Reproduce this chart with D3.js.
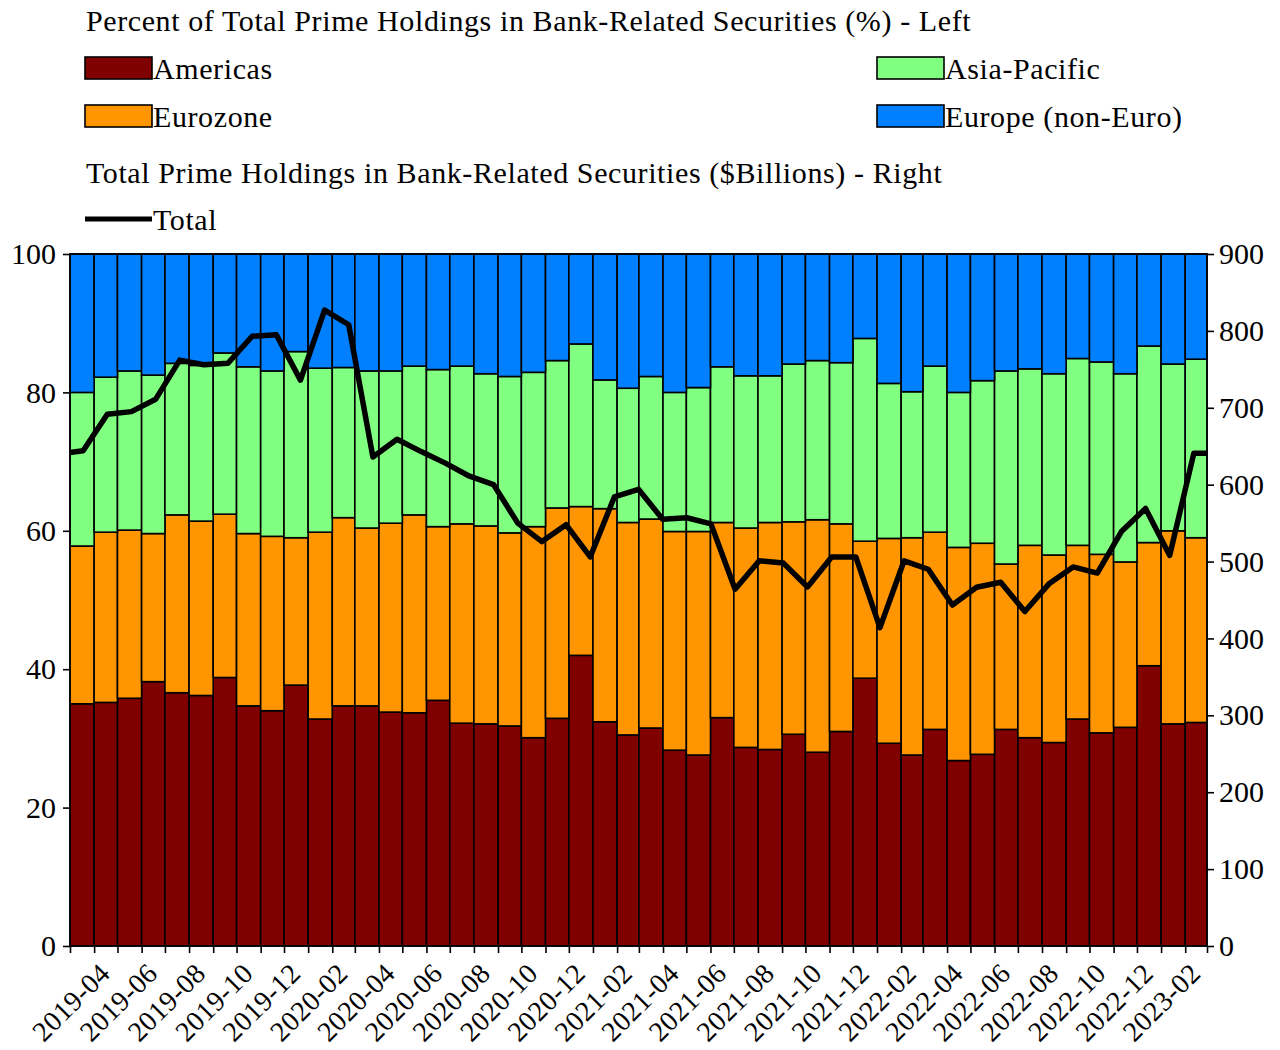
<!DOCTYPE html>
<html>
<head>
<meta charset="utf-8">
<script src="https://cdn.jsdelivr.net/npm/d3@7"></script>
<style>
  body { margin: 0; background: white; }
  svg text { font-family: 'Liberation Serif', 'Times New Roman', serif; fill: black; }
</style>
</head>
<body>
<div id="chart-container"></div>
<script>
// Monthly periods of the bars
const months = [
    '2019-03', '2019-04', '2019-05', '2019-06', '2019-07', '2019-08', '2019-09', '2019-10', '2019-11', '2019-12',
    '2020-01', '2020-02', '2020-03', '2020-04', '2020-05', '2020-06', '2020-07', '2020-08', '2020-09', '2020-10', '2020-11', '2020-12',
    '2021-01', '2021-02', '2021-03', '2021-04', '2021-05', '2021-06', '2021-07', '2021-08', '2021-09', '2021-10', '2021-11', '2021-12',
    '2022-01', '2022-02', '2022-03', '2022-04', '2022-05', '2022-06', '2022-07', '2022-08', '2022-09', '2022-10', '2022-11', '2022-12',
    '2023-01', '2023-02'
]

// Shares of total prime holdings (%)
const americas = [35.0, 35.2, 35.8, 38.2, 36.6, 36.2, 38.8, 34.7, 34.0, 37.7, 32.8, 34.7, 34.7, 33.8, 33.7, 35.5,
    32.2, 32.1, 31.8, 30.1, 32.9, 42.0, 32.4, 30.5, 31.5, 28.3, 27.6, 33.0, 28.7, 28.4, 30.6, 28.0,
    31.0, 38.7, 29.3, 27.6, 31.3, 26.8, 27.7, 31.3, 30.1, 29.4, 32.8, 30.8, 31.6, 40.5, 32.1, 32.3]
const eurozone = [22.8, 24.6, 24.3, 21.4, 25.7, 25.2, 23.6, 24.9, 25.2, 21.3, 27.0, 27.2, 25.7, 27.3, 28.6, 25.1,
    28.8, 28.6, 27.9, 30.5, 30.4, 21.5, 30.8, 30.7, 30.2, 31.6, 32.3, 28.2, 31.7, 32.8, 30.7, 33.6,
    30.0, 19.8, 29.6, 31.4, 28.5, 30.8, 30.5, 23.9, 27.8, 27.1, 25.1, 25.8, 23.9, 17.8, 27.9, 26.7]
const asiaPacific = [22.2, 22.4, 23.0, 22.9, 21.9, 22.5, 23.3, 24.1, 23.9, 26.9, 23.7, 21.7, 22.7, 22.0, 21.5, 22.7,
    22.8, 22.0, 22.6, 22.3, 21.3, 23.5, 18.6, 19.4, 20.6, 20.1, 20.8, 22.5, 22.0, 21.2, 22.8, 23.0,
    23.3, 29.3, 22.4, 21.1, 24.0, 22.4, 23.5, 27.9, 25.5, 26.2, 27.0, 27.8, 27.2, 28.4, 24.1, 25.8]
const europeNonEuro = [20.0, 17.8, 16.9, 17.5, 15.8, 16.1, 14.3, 16.3, 16.9, 14.1, 16.5, 16.4, 16.9, 16.9, 16.2, 16.7,
    16.2, 17.3, 17.7, 17.1, 15.4, 13.0, 18.2, 19.4, 17.7, 20.0, 19.3, 16.3, 17.6, 17.6, 15.9, 15.4,
    15.7, 12.2, 18.7, 19.9, 16.2, 20.0, 18.3, 16.9, 16.6, 17.3, 15.1, 15.6, 17.3, 13.3, 15.9, 15.2]

// Total holdings ($Billions), its own point axis running slightly past the plot edges
const totalPeriods = ['2019-02'].concat(months)
const totalHoldings = [640, 644, 691.5, 695, 711, 762, 756, 758, 793, 795, 736, 827, 808, 636, 659, 643, 628,
    611, 600, 550, 526, 548, 506, 584, 594, 555, 557, 549, 464, 501, 498, 467, 506,
    506, 414, 501, 490, 443.5, 466.5, 473, 435, 471, 493, 485, 539, 569, 508, 641, 641]

const seriesKeys = ['Americas', 'Eurozone', 'Asia-Pacific', 'Europe (non-Euro)']
const seriesColors = ['#800000', '#ff9500', '#80ff80', '#0080ff']
const leftTicks = [0, 20, 40, 60, 80, 100]
const rightTicks = [0, 100, 200, 300, 400, 500, 600, 700, 800, 900]

const width = 1280
const height = 1050
const plot = { left: 70, right: 1207, top: 254, bottom: 946 }
const fontSize = 30
const dateFontSize = 28
const letterSpacing = 0.6

const parseMonth = d3.timeParse('%Y-%m')
const table = months.map((m, i) => ({
    month: parseMonth(m),
    label: m,
    'Americas': americas[i],
    'Eurozone': eurozone[i],
    'Asia-Pacific': asiaPacific[i],
    'Europe (non-Euro)': europeNonEuro[i]
}))

const svg = d3.select('#chart-container')
    .append('svg')
    .attr('width', width)
    .attr('height', height)

// Scales
const xScale = d3.scaleTime()
    .domain([table[0].month, d3.timeMonth.offset(table[table.length - 1].month, 1)])
    .range([plot.left, plot.right])
const yLeft = d3.scaleLinear().domain([0, 100]).range([plot.bottom, plot.top])
const yRight = d3.scaleLinear().domain([0, 900]).range([plot.bottom, plot.top])
const lineX = d3.scalePoint().domain(totalPeriods).range([plot.left - 11, plot.right + 11])
const color = d3.scaleOrdinal().domain(seriesKeys).range(seriesColors)

// Stacked bars
const stacked = d3.stack().keys(seriesKeys)(table)
svg.append('g')
    .selectAll('g')
    .data(stacked)
    .enter()
    .append('g')
    .attr('fill', d => color(d.key))
    .selectAll('rect')
    .data(d => d)
    .enter()
    .append('rect')
    .attr('x', d => xScale(d.data.month))
    .attr('width', d => xScale(d3.timeMonth.offset(d.data.month, 1)) - xScale(d.data.month))
    .attr('y', d => yLeft(d[1]))
    .attr('height', d => yLeft(d[0]) - yLeft(d[1]))
    .attr('stroke', 'black')
    .attr('stroke-width', 1.6)

// Total line, clipped to the plot
svg.append('clipPath')
    .attr('id', 'plot-clip')
    .append('rect')
    .attr('x', plot.left)
    .attr('y', plot.top)
    .attr('width', plot.right - plot.left)
    .attr('height', plot.bottom - plot.top)

const line = d3.line()
    .x((d, i) => lineX(totalPeriods[i]))
    .y(d => yRight(d))
svg.append('path')
    .datum(totalHoldings)
    .attr('clip-path', 'url(#plot-clip)')
    .attr('d', line)
    .attr('fill', 'none')
    .attr('stroke', 'black')
    .attr('stroke-width', 5.5)
    .attr('stroke-linejoin', 'round')

// Frame
svg.append('rect')
    .attr('x', plot.left)
    .attr('y', plot.top)
    .attr('width', plot.right - plot.left)
    .attr('height', plot.bottom - plot.top)
    .attr('fill', 'none')
    .attr('stroke', 'black')
    .attr('stroke-width', 1.6)

// Axes
const monthStarts = table.map(d => d.month).concat([xScale.domain()[1]])
const xAxis = d3.axisBottom(xScale)
    .tickValues(monthStarts)
    .tickFormat('')
    .tickSize(7)
svg.append('g')
    .attr('transform', 'translate(0,' + plot.bottom + ')')
    .call(xAxis)
    .call(g => g.select('.domain').remove())

// Date labels every other month, rotated
svg.append('g')
    .selectAll('text')
    .data(table.filter((d, i) => i % 2 === 1))
    .enter()
    .append('text')
    .attr('text-anchor', 'end')
    .attr('font-size', dateFontSize)
    .attr('letter-spacing', 0.4)
    .attr('transform', d => {
        const cx = (xScale(d.month) + xScale(d3.timeMonth.offset(d.month, 1))) / 2 + 6
        return 'translate(' + cx + ',' + (plot.bottom + 29) + ') rotate(-45)'
    })
    .text(d => d.label)

const leftAxis = d3.axisLeft(yLeft).tickValues(leftTicks).tickSize(7).tickPadding(7)
svg.append('g')
    .attr('transform', 'translate(' + plot.left + ',0)')
    .call(leftAxis)
    .call(g => g.select('.domain').remove())

const rightAxis = d3.axisRight(yRight).tickValues(rightTicks).tickSize(7).tickPadding(5)
svg.append('g')
    .attr('transform', 'translate(' + plot.right + ',0)')
    .call(rightAxis)
    .call(g => g.select('.domain').remove())

svg.selectAll('.tick line').attr('stroke', 'black').attr('stroke-width', 1.6)
svg.selectAll('.tick text')
    .attr('font-size', fontSize)
    .attr('font-family', "'Liberation Serif', serif")
    .attr('fill', 'black')

// Legend
const legend = svg.append('g')
    .attr('id', 'legend')
    .attr('font-size', fontSize)
    .attr('letter-spacing', letterSpacing)
legend.append('text')
    .attr('x', 86).attr('y', 31)
    .text('Percent of Total Prime Holdings in Bank-Related Securities (%) - Left')

const legendPos = [
    { x: 85, y: 57 },
    { x: 85, y: 105 },
    { x: 877, y: 57 },
    { x: 877, y: 105 }
]
const legendItems = legend.selectAll('.legend-item')
    .data(seriesKeys)
    .enter()
    .append('g')
    .attr('class', 'legend-item')
    .attr('transform', (d, i) => 'translate(' + legendPos[i].x + ',' + legendPos[i].y + ')')
legendItems.append('rect')
    .attr('width', 67)
    .attr('height', 22)
    .attr('fill', d => color(d))
    .attr('stroke', 'black')
    .attr('stroke-width', 1.6)
legendItems.append('text')
    .attr('x', 68)
    .attr('y', 22)
    .text(d => d)

legend.append('text')
    .attr('x', 86).attr('y', 183)
    .text('Total Prime Holdings in Bank-Related Securities ($Billions) - Right')
legend.append('line')
    .attr('x1', 85).attr('x2', 152)
    .attr('y1', 219).attr('y2', 219)
    .attr('stroke', 'black')
    .attr('stroke-width', 5)
legend.append('text')
    .attr('x', 153).attr('y', 230)
    .text('Total')
</script>
</body>
</html>
